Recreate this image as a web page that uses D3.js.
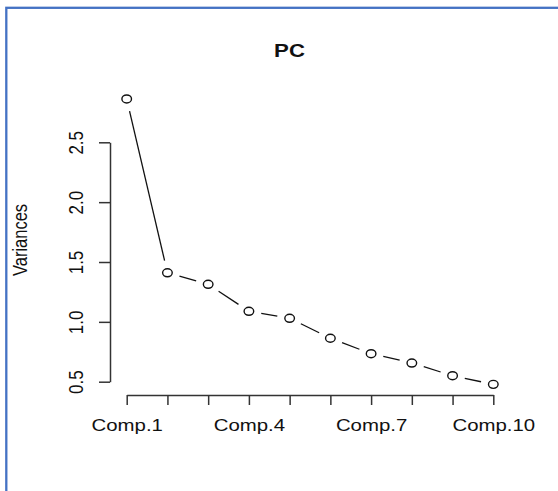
<!DOCTYPE html>
<html>
<head>
<meta charset="utf-8">
<script src="https://cdn.jsdelivr.net/npm/d3@7"></script>
<style>
html,body{margin:0;padding:0;background:#fff;}
svg{display:block;}
text{font-family:"Liberation Sans",Arial,Helvetica,sans-serif;fill:#111;}
</style>
</head>
<body>
<svg id="chart" width="558" height="491"></svg>
<script>
const title = "PC";
const yLabel = "Variances";
const categories = ["Comp.1","Comp.2","Comp.3","Comp.4","Comp.5","Comp.6","Comp.7","Comp.8","Comp.9","Comp.10"];
const variances = [2.862, 1.410, 1.314, 1.088, 1.030, 0.863, 0.734, 0.656, 0.550, 0.478];
const yTicks = [0.5, 1.0, 1.5, 2.0, 2.5];
const xTickLabels = ["Comp.1","Comp.4","Comp.7","Comp.10"];

const svg = d3.select("#chart");
const SX = 1.2; // horizontal stretch of the reference image

// frame
svg.append("rect").attr("x",6.3).attr("y",7.8).attr("width",700).attr("height",700)
  .attr("fill","none").attr("stroke","#4472C4").attr("stroke-width",2.3);

const x = d3.scalePoint().domain(categories).range([126.7, 493.3]);
const y = d3.scaleLinear().domain([0.5, 2.5]).range([381.7, 142.3]);

// title
svg.append("text").attr("transform",`translate(289.5,57) scale(${SX},1)`)
  .attr("text-anchor","middle").style("font-weight","bold").style("font-size","18.5px").text(title);

// y label
svg.append("text").attr("transform",`translate(26.7,240) scale(${SX},1) rotate(-90)`)
  .attr("text-anchor","middle").style("font-size","16.5px").text(yLabel);

// y axis
const gy = svg.append("g").attr("transform","translate(110,0)")
  .call(d3.axisLeft(y).tickValues(yTicks).tickSize(11).tickSizeOuter(0).tickFormat(d3.format(".1f")));
gy.selectAll("path.domain,line").attr("stroke","#333").attr("stroke-width",1.5);
gy.selectAll("text").attr("x",null).attr("dy",null).attr("y",null)
  .attr("transform",`translate(-27,0) scale(${SX},1) rotate(-90)`)
  .attr("text-anchor","middle").attr("fill","#111").style("font-size","17px")
  .style("font-family",'"Liberation Sans",Arial,sans-serif');

// x axis
const gx = svg.append("g").attr("transform","translate(0,395)")
  .call(d3.axisBottom(x).tickSize(10).tickSizeOuter(0)
    .tickFormat(d => xTickLabels.includes(d) ? d : ""));
gx.selectAll("path.domain,line").attr("stroke","#333").attr("stroke-width",1.5);
gx.selectAll("text").attr("y",null).attr("dy",null)
  .attr("transform",`translate(0,36) scale(${SX},1)`)
  .attr("text-anchor","middle").attr("fill","#111").style("font-size","17px")
  .style("font-family",'"Liberation Sans",Arial,sans-serif');

// line segments with gaps (type = "b")
const pts = categories.map((c,i) => ({x: x(c), y: y(variances[i])}));
const gap = 12.5;
const segs = d3.pairs(pts).map(([a,b]) => {
  const dx = b.x - a.x, dy = b.y - a.y, L = Math.hypot(dx,dy);
  const ux = dx/L, uy = dy/L;
  return {x1: a.x+ux*gap, y1: a.y+uy*gap, x2: b.x-ux*gap, y2: b.y-uy*gap};
});
svg.append("g").selectAll("line").data(segs).join("line")
  .attr("x1",d=>d.x1).attr("y1",d=>d.y1).attr("x2",d=>d.x2).attr("y2",d=>d.y2)
  .attr("stroke","#111").attr("stroke-width",1.3);

// points
svg.append("g").selectAll("ellipse").data(variances).join("ellipse")
  .attr("cx",(d,i)=>x(categories[i])).attr("cy",d=>y(d))
  .attr("rx",4.8).attr("ry",4.0)
  .attr("fill","#fff").attr("stroke","#111").attr("stroke-width",1.4);
</script>
</body>
</html>
